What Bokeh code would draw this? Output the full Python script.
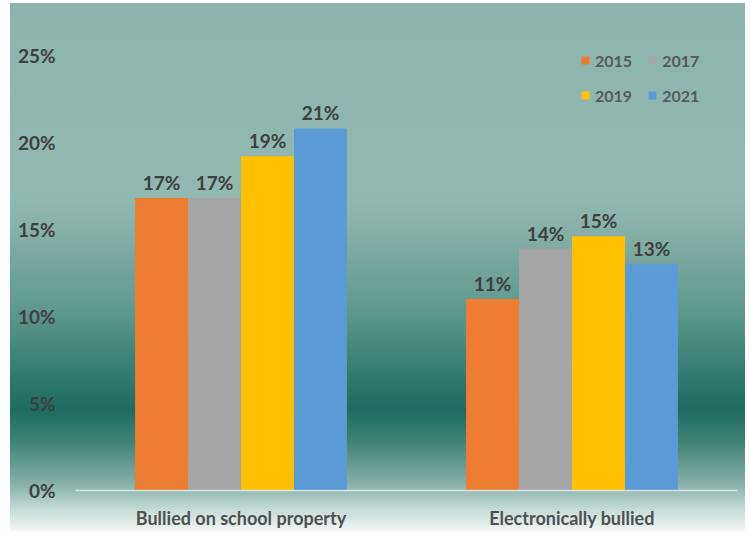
from bokeh.plotting import figure
from bokeh.models import ColumnDataSource, FactorRange, Legend, LegendItem, NumeralTickFormatter, FixedTicker, Range1d
from bokeh.transform import dodge
from bokeh.core.properties import value
from bokeh.embed import file_html
from bokeh.resources import INLINE

categories = ["Bullied on school property", "Electronically bullied"]
years = ["2015", "2017", "2019", "2021"]
v2015 = [0.168, 0.110]
v2017 = [0.168, 0.139]
v2019 = [0.192, 0.146]
v2021 = [0.208, 0.130]
y_ticks = [0, 0.05, 0.10, 0.15, 0.20, 0.25]

colors = ["#ED7D31", "#A5A5A5", "#FFC000", "#5B9BD5"]
series = [v2015, v2017, v2019, v2021]
offsets = [-0.24, -0.08, 0.08, 0.24]

FONT = "Lato"
TXT = "#404040"

p = figure(x_range=FactorRange(*categories), y_range=Range1d(0, 0.27),
           width=735, height=528, output_backend="svg", toolbar_location=None,
           min_border_left=65, min_border_right=8, min_border_top=17, min_border_bottom=40)
p.margin = (3, 5, 4, 10)
p.styles = {"background": "linear-gradient(to bottom, #8cb4ac 0%, #91b9b2 36%, #84afa7 44%, #5b978c 59%, #2f7a6d 71%, #1d6c5f 77%, #3f8276 83%, #86b0a8 91%, #c6dbd7 96%, #f2f6f5 100%)"}
p.border_fill_alpha = 0
p.background_fill_alpha = 0
p.outline_line_color = None
p.xgrid.grid_line_color = None
p.ygrid.grid_line_color = None

renderers = {}
for yr, vals, col, off in zip(years, series, colors, offsets):
    src = ColumnDataSource(dict(cat=categories, val=vals, lab=[f"{round(v * 100)}%" for v in vals]))
    r = p.vbar(x=dodge("cat", off, range=p.x_range), top="val", width=0.16, source=src,
               fill_color=col, line_color=None)
    p.text(x=dodge("cat", off, range=p.x_range), y="val", text="lab", source=src,
           text_align="center", text_baseline="bottom", y_offset=-4,
           text_font=value(FONT), text_font_style="bold", text_font_size="19px", text_color=TXT)
    renderers[yr] = r

# column-major fill with ncols=2 -> rows read 2015 2017 / 2019 2021
legend_order = ["2015", "2019", "2017", "2021"]
items = [LegendItem(label=yr, renderers=[renderers[yr]]) for yr in legend_order]
legend = Legend(items=items, ncols=2, location=(505, 385), orientation="vertical",
                glyph_width=10, glyph_height=10, label_height=20, label_width=37,
                label_standoff=5, spacing=15, padding=0, margin=0,
                label_text_font=FONT, label_text_font_style="bold", label_text_font_size="16px",
                label_text_color="#595959", background_fill_alpha=0, border_line_color=None)
p.add_layout(legend, "center")

p.yaxis.ticker = FixedTicker(ticks=y_ticks)
p.yaxis.formatter = NumeralTickFormatter(format="0%")
p.yaxis.axis_line_color = None
p.yaxis.major_tick_line_color = None
p.yaxis.minor_tick_line_color = None
p.yaxis.major_tick_out = 0
p.yaxis.major_tick_in = 0
p.yaxis.minor_tick_out = 0
p.yaxis.major_label_standoff = 20
p.yaxis.major_label_text_font = FONT
p.yaxis.major_label_text_font_style = "bold"
p.yaxis.major_label_text_font_size = "19px"
p.yaxis.major_label_text_color = TXT

p.xaxis.axis_line_color = "#d9e4e2"
p.xaxis.axis_line_width = 1.5
p.xaxis.major_tick_line_color = None
p.xaxis.minor_tick_line_color = None
p.xaxis.major_tick_out = 0
p.xaxis.major_tick_in = 0
p.xaxis.minor_tick_out = 0
p.xaxis.major_label_standoff = 16
p.xaxis.major_label_text_font = FONT
p.xaxis.major_label_text_font_style = "bold"
p.xaxis.major_label_text_font_size = "18px"
p.xaxis.major_label_text_color = "#505050"

open("out.html", "w").write(file_html(p, INLINE))
